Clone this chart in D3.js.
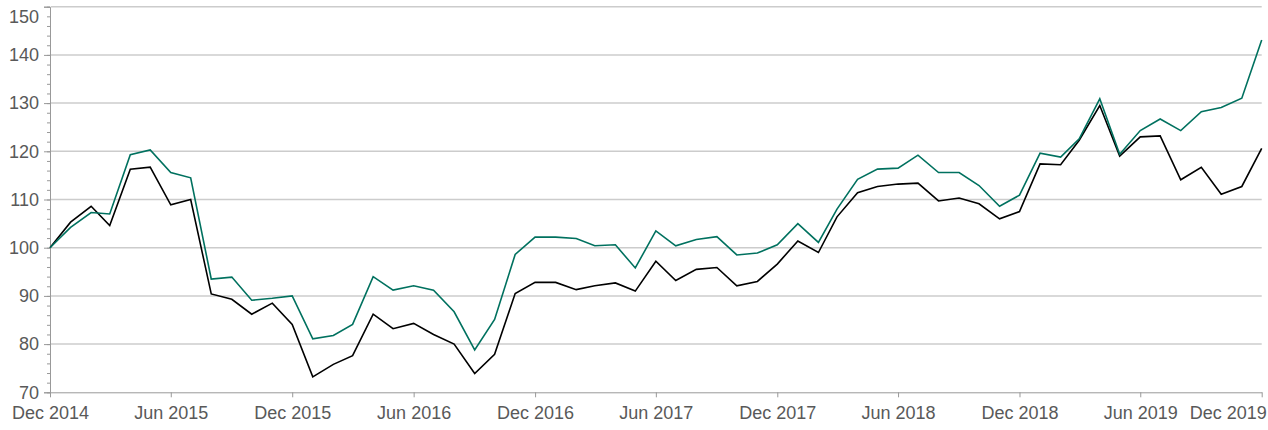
<!DOCTYPE html>
<html>
<head>
<meta charset="utf-8">
<script src="https://cdn.jsdelivr.net/npm/d3@7"></script>
<style>
  body { margin: 0; background: #fff; }
  svg { display: block; font-family: "Liberation Sans", Arial, sans-serif; }
  .axis text { fill: #595959; font-size: 18px; }
  .axis path, .axis line { stroke: #999; }
  .grid line { stroke: #ccc; stroke-width: 1.5; }
</style>
</head>
<body>
<script>
"use strict";

// monthly index, Dec 2014 = 100
var startMonth = new Date(2014, 11, 1);

var seriesGreen = [
  100, 104.2, 107.3, 107.0, 119.3, 120.3, 115.6, 114.5, 93.5, 93.9, 89.1, 89.5, 90.0,
  81.1, 81.8, 84.1, 94.0, 91.2, 92.1, 91.2, 86.7, 78.8, 85.1, 98.6, 102.2,
  102.2, 101.9, 100.4, 100.6, 95.8, 103.5, 100.4, 101.7, 102.3, 98.5, 98.9, 100.6,
  105.0, 101.1, 108.0, 114.2, 116.3, 116.5, 119.2, 115.6, 115.6, 112.9, 108.6, 110.9,
  119.6, 118.8, 122.6, 130.9, 119.4, 124.3, 126.7, 124.3, 128.2, 129.1, 131.0, 143.1
];

var seriesBlack = [
  100, 105.3, 108.6, 104.6, 116.3, 116.7, 108.9, 110.0, 90.4, 89.3, 86.2, 88.5, 84.1,
  73.2, 75.8, 77.6, 86.2, 83.2, 84.3, 82.0, 80.0, 73.9, 77.9, 90.5, 92.8,
  92.8, 91.3, 92.1, 92.7, 91.0, 97.2, 93.2, 95.5, 95.9, 92.1, 93.0, 96.6,
  101.4, 99.0, 106.4, 111.4, 112.7, 113.2, 113.4, 109.7, 110.3, 109.1, 106.0, 107.5,
  117.4, 117.2, 122.3, 129.5, 119.0, 123.0, 123.2, 114.1, 116.7, 111.1, 112.7, 120.6
];

var yTicks = [70, 80, 90, 100, 110, 120, 130, 140, 150];
var xTickLabels = ["Dec 2014", "Jun 2015", "Dec 2015", "Jun 2016", "Dec 2016", "Jun 2017",
                   "Dec 2017", "Jun 2018", "Dec 2018", "Jun 2019", "Dec 2019"];

var months = seriesGreen.map(function(d, i){ return d3.timeMonth.offset(startMonth, i); });

var width = 1268,
    height = 430;
var margin = {left: 50, right: 6.3, top: 6.7, bottom: 37.7};

var svg = d3.select("body").append("svg")
    .attr("width", width)
    .attr("height", height);

var x = d3.scaleTime()
    .domain([months[0], months[months.length - 1]])
    .range([margin.left, width - margin.right]);

var y = d3.scaleLinear()
    .domain([70, 150])
    .range([height - margin.bottom, margin.top]);

// gridlines
svg.append("g")
    .attr("class", "grid")
    .selectAll("line")
    .data(yTicks.slice(1))
    .enter().append("line")
        .attr("x1", margin.left + 1)
        .attr("x2", width - margin.right)
        .attr("y1", function(d){ return y(d); })
        .attr("y2", function(d){ return y(d); });

// minor y ticks
svg.append("g")
    .attr("class", "axis")
    .attr("transform", "translate(" + margin.left + ",0)")
    .call(d3.axisLeft(y).ticks(40).tickSize(3).tickFormat(""))
    .call(function(g){ g.select(".domain").remove(); });

// y axis
var yAxis = svg.append("g")
    .attr("class", "axis")
    .attr("transform", "translate(" + margin.left + ",0)")
    .call(d3.axisLeft(y).tickValues(yTicks).tickSize(6).tickSizeOuter(6).tickPadding(5));

yAxis.selectAll(".tick text")
    .filter(function(d){ return d === 150; })
    .attr("dy", "0.9em");

// x axis
var tickDates = xTickLabels.map(function(d){ return d3.timeParse("%b %Y")(d); });

var xAxis = svg.append("g")
    .attr("class", "axis")
    .attr("transform", "translate(0," + (height - margin.bottom) + ")")
    .call(d3.axisBottom(x).tickValues(tickDates).tickSize(5).tickSizeOuter(0).tickPadding(9)
        .tickFormat(d3.timeFormat("%b %Y")));

// last label pulled in so it stays inside the picture
xAxis.selectAll(".tick text")
    .filter(function(d, i){ return i === tickDates.length - 1; })
    .attr("dx", -34);

// lines
var line = d3.line()
    .x(function(d, i){ return x(months[i]); })
    .y(function(d){ return y(d); });

svg.append("path")
    .datum(seriesBlack)
    .attr("fill", "none")
    .attr("stroke", "#000")
    .attr("stroke-width", 1.6)
    .attr("d", line);

svg.append("path")
    .datum(seriesGreen)
    .attr("fill", "none")
    .attr("stroke", "#00715f")
    .attr("stroke-width", 1.6)
    .attr("d", line);
</script>
</body>
</html>
